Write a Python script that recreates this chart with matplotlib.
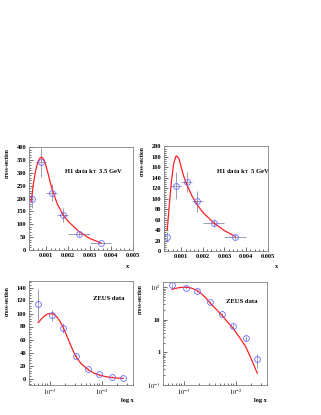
import matplotlib
matplotlib.use("Agg")
import matplotlib.pyplot as plt
from matplotlib.ticker import MultipleLocator, FixedLocator, FuncFormatter, LogLocator, NullFormatter

plt.rcParams['font.family'] = ['Liberation Serif', 'DejaVu Serif']
plt.rcParams['mathtext.fontset'] = 'stix'

W, H = 321, 415

# ---------------- data ----------------
# H1 kT 3.5 GeV
h1a_x = [0.00035, 0.00075, 0.00125, 0.00175, 0.0025, 0.0035]
h1a_xerr = [0.0, 0.00025, 0.00025, 0.00025, 0.0005, 0.0005]
h1a_y = [200, 340, 222, 136, 63, 27]
h1a_yerr = [35, 55, 33, 26, 8, 5]
h1a_curve_x = [0.0003, 0.0004, 0.0005, 0.0006, 0.0007, 0.0008, 0.0009, 0.0010, 0.0011,
               0.00125, 0.0015, 0.00175, 0.0020, 0.0025, 0.0030, 0.0035]
h1a_curve_y = [188, 255, 305, 340, 357, 360, 350, 322, 290, 240, 180, 140, 112, 72, 45, 28]

# H1 kT 5 GeV
h1b_x = [0.00035, 0.00075, 0.00125, 0.00175, 0.0025, 0.0035]
h1b_xerr = [0.0, 0.00025, 0.00025, 0.00025, 0.0005, 0.0005]
h1b_y = [27, 125, 132, 95, 54, 27]
h1b_yerr = [10, 26, 19, 20, 8, 4]
h1b_curve_x = [0.00035, 0.00045, 0.00055, 0.00065, 0.00075, 0.0008, 0.0009, 0.0010, 0.0011,
               0.00125, 0.0015, 0.00175, 0.0020, 0.0025, 0.0030, 0.0035]
h1b_curve_y = [40, 90, 135, 168, 181, 182, 176, 160, 145, 128, 105, 88, 74, 54, 39, 28]

# ZEUS
zeus_x = [6.0e-4, 1.09e-3, 1.83e-3, 3.16e-3, 5.5e-3, 9.0e-3, 1.56e-2, 2.6e-2]
zeus_y = [114, 97, 78, 34.5, 14.7, 6.5, 2.7, 0.61]
zeus_yerr = [24, 9, 8, 3, 1.5, 0.8, 0.4, 0.27]
zeus_curve_x = [6.0e-4, 7e-4, 8e-4, 9e-4, 1.0e-3, 1.2e-3, 1.4e-3, 1.6e-3, 1.83e-3, 2.2e-3,
                2.6e-3, 3.16e-3, 4e-3, 5.5e-3, 7e-3, 9e-3, 1.2e-2, 1.56e-2, 2e-2, 2.6e-2]
zeus_curve_y = [86, 92, 96.5, 99, 100, 99, 94, 87, 78, 63, 49, 34, 23, 13.5, 8.5, 5.4, 2.8,
                1.5, 0.62, 0.23]

# ---------------- styling ----------------
RED = '#ff2020'
MK = '#6a6aff'
ERR = '#8c8ca8'
FRAME = '#808080'
FS_TICK = 4.6
FS_LAB = 4.0
FS_TXT = 4.8


def add_ax(l, r, t, b):
    return fig.add_axes([l / W, 1 - b / H, (r - l) / W, (b - t) / H])


def style(ax):
    for s in ax.spines.values():
        s.set_color(FRAME)
        s.set_linewidth(0.6)
    ax.tick_params(which='both', direction='in', top=False, right=False,
                   labelsize=FS_TICK, colors='black', width=0.4, pad=2)
    ax.tick_params(which='major', length=3)
    ax.tick_params(which='minor', length=1.6)
    for lab in ax.get_xticklabels() + ax.get_yticklabels():
        lab.set_fontweight('bold')


def ylab(ax, xpx, ytop_px):
    fig.text(xpx / W, 1 - ytop_px / H, 'cross-section', rotation=90, ha='center', va='top',
             fontsize=FS_LAB, fontweight='bold')


fig = plt.figure(figsize=(W / 100, H / 100), dpi=100)
fig.patch.set_facecolor('white')

# ---- top-left
ax1 = add_ax(29, 133, 147, 250)
ax1.errorbar(h1a_x, h1a_y, xerr=h1a_xerr, yerr=h1a_yerr, fmt='none', ecolor=ERR, elinewidth=0.6,
             capsize=0)
ax1.plot(h1a_curve_x, h1a_curve_y, color=RED, lw=0.9)
ax1.plot(h1a_x, h1a_y, 'o', mfc='none', mec=MK, ms=4.2, mew=0.6)
ax1.set_xlim(0.0002, 0.005)
ax1.set_ylim(0, 400)
ax1.xaxis.set_major_locator(FixedLocator([0.001, 0.002, 0.003, 0.004, 0.005]))
ax1.xaxis.set_minor_locator(MultipleLocator(0.0002))
ax1.xaxis.set_major_formatter(FuncFormatter(lambda v, p: f'{v:.3f}'))
ax1.yaxis.set_major_locator(MultipleLocator(50))
ax1.yaxis.set_minor_locator(MultipleLocator(10))
style(ax1)
ax1.text(0.337, 0.757, r'H1 data k$_\mathbf{T}$  3.5 GeV', transform=ax1.transAxes, fontsize=FS_TXT,
         fontweight='bold', va='center', ha='left')
ylab(ax1, 7, 148)
fig.text(128 / W, 1 - 266 / H, 'x', fontsize=FS_LAB + 0.5, fontweight='bold', ha='center', va='center')

# ---- top-right
ax2 = add_ax(164, 267.5, 146.5, 251)
ax2.errorbar(h1b_x, h1b_y, xerr=h1b_xerr, yerr=h1b_yerr, fmt='none', ecolor=ERR, elinewidth=0.6,
             capsize=0)
ax2.plot(h1b_curve_x, h1b_curve_y, color=RED, lw=0.9)
ax2.plot(h1b_x, h1b_y, 'o', mfc='none', mec=MK, ms=4.2, mew=0.6)
ax2.set_xlim(0.0002, 0.005)
ax2.set_ylim(0, 200)
ax2.xaxis.set_major_locator(FixedLocator([0.001, 0.002, 0.003, 0.004, 0.005]))
ax2.xaxis.set_minor_locator(MultipleLocator(0.0002))
ax2.xaxis.set_major_formatter(FuncFormatter(lambda v, p: f'{v:.3f}'))
ax2.yaxis.set_major_locator(MultipleLocator(20))
ax2.yaxis.set_minor_locator(MultipleLocator(4))
style(ax2)
ax2.text(0.502, 0.756, r'H1 data k$_\mathbf{T}$  5 GeV', transform=ax2.transAxes, fontsize=FS_TXT,
         fontweight='bold', va='center', ha='left')
ylab(ax2, 142, 146)
fig.text(277 / W, 1 - 266 / H, 'x', fontsize=FS_LAB + 0.5, fontweight='bold', ha='center', va='center')

# ---- bottom-left
ax3 = add_ax(29, 133, 281, 385)
ax3.errorbar(zeus_x, zeus_y, yerr=zeus_yerr, fmt='none', ecolor=ERR, elinewidth=0.6, capsize=0)
ax3.plot(zeus_curve_x, zeus_curve_y, color=RED, lw=0.9)
ax3.plot(zeus_x, zeus_y, 'o', mfc='none', mec=MK, ms=4.2, mew=0.6)
ax3.set_xscale('log')
ax3.set_xlim(4e-4, 4e-2)
ax3.set_ylim(-10, 150)
ax3.xaxis.set_major_locator(FixedLocator([1e-3, 1e-2]))
ax3.xaxis.set_minor_locator(LogLocator(base=10, subs=range(2, 10)))
ax3.xaxis.set_minor_formatter(NullFormatter())
ax3.xaxis.set_major_formatter(FuncFormatter(lambda v, p: {1e-3: r'$10^{-3}$', 1e-2: r'$10^{-2}$'}.get(v, '')))
ax3.yaxis.set_major_locator(MultipleLocator(20))
ax3.yaxis.set_minor_locator(MultipleLocator(4))
style(ax3)
ax3.text(0.612, 0.834, 'ZEUS data', transform=ax3.transAxes, fontsize=FS_TXT, fontweight='bold',
         va='center', ha='left')
ylab(ax3, 7, 286)
fig.text(127 / W, 1 - 400 / H, 'log x', fontsize=FS_LAB + 0.5, fontweight='bold', ha='center', va='center')

# ---- bottom-right
ax4 = add_ax(163, 267, 281.5, 385)
ax4.errorbar(zeus_x, zeus_y, yerr=zeus_yerr, fmt='none', ecolor=ERR, elinewidth=0.6, capsize=0)
ax4.plot(zeus_curve_x, zeus_curve_y, color=RED, lw=0.9)
ax4.plot(zeus_x, zeus_y, 'o', mfc='none', mec=MK, ms=4.2, mew=0.6)
ax4.set_xscale('log')
ax4.set_yscale('log')
ax4.set_xlim(4e-4, 4e-2)
ax4.set_ylim(0.1, 150)
ax4.xaxis.set_major_locator(FixedLocator([1e-3, 1e-2]))
ax4.xaxis.set_minor_locator(LogLocator(base=10, subs=range(2, 10)))
ax4.xaxis.set_minor_formatter(NullFormatter())
ax4.xaxis.set_major_formatter(FuncFormatter(lambda v, p: {1e-3: r'$10^{-3}$', 1e-2: r'$10^{-2}$'}.get(v, '')))
ax4.yaxis.set_major_locator(FixedLocator([0.1, 1, 10, 100]))
ax4.yaxis.set_minor_locator(LogLocator(base=10, subs=range(2, 10)))
ax4.yaxis.set_minor_formatter(NullFormatter())
ax4.yaxis.set_major_formatter(FuncFormatter(
    lambda v, p: {0.1: r'$10^{-1}$', 1: '1', 10: '10', 100: r'$10^{2}$'}.get(round(v, 3), '')))
style(ax4)
ax4.text(0.603, 0.805, 'ZEUS data', transform=ax4.transAxes, fontsize=FS_TXT, fontweight='bold',
         va='center', ha='left')
ylab(ax4, 140, 284)
fig.text(260 / W, 1 - 400 / H, 'log x', fontsize=FS_LAB + 0.5, fontweight='bold', ha='center', va='center')

fig.savefig('out.png', dpi=100, facecolor='white')
